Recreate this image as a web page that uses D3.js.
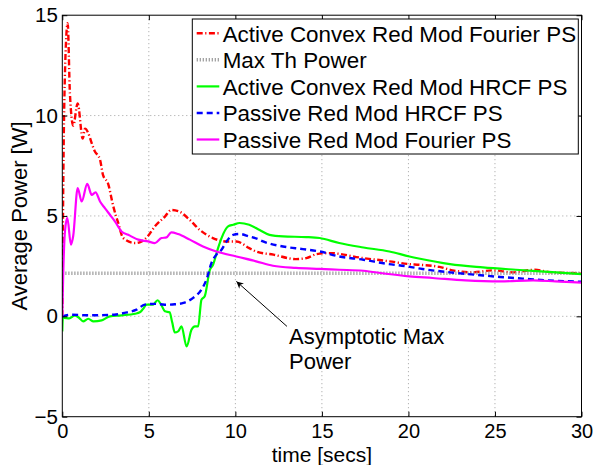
<!DOCTYPE html>
<html>
<head>
<meta charset="utf-8">
<script src="https://cdn.jsdelivr.net/npm/d3@7"></script>
<style>
  html, body { margin: 0; padding: 0; background: #fff; }
  svg { display: block; }
  text { font-family: "Liberation Sans", Arial, Helvetica, sans-serif; fill: #000; }
</style>
</head>
<body>
<svg id="chart" width="595" height="465"></svg>
<script>
// ---------------- DATA ----------------
const xTicks = [0, 5, 10, 15, 20, 25, 30];
const yTicks = [-5, 0, 5, 10, 15];

const seriesNames = [
  "Active Convex Red Mod Fourier PS",
  "Max Th Power",
  "Active Convex Red Mod HRCF PS",
  "Passive Red Mod HRCF PS",
  "Passive Red Mod Fourier PS"
];

const activeFourierT = [0, 0.05, 0.15, 0.31, 0.44, 0.63, 0.89, 1.18, 1.31, 1.89, 2.18, 2.35, 2.65, 2.94, 3.23, 3.52, 4.2, 4.5, 4.9, 5.35, 5.93, 6.3, 6.8, 7.37, 7.95, 8.7, 9.5, 10.06, 10.8, 11.2, 12.2, 13.5, 14.1, 14.7, 15.45, 17.4, 18.9, 20.06, 20.6, 21.8, 22.55, 23.7, 24.9, 26.0, 27.3, 28.3, 30];
const activeFourierV = [0, 6, 12, 14.6, 11.1, 9.5, 10.6, 8.85, 9.35, 8.2, 7.8, 7.05, 6.6, 5.5, 4.65, 3.9, 3.65, 3.7, 3.95, 4.48, 4.97, 5.3, 5.2, 4.8, 4.3, 3.9, 3.73, 3.73, 3.4, 3.23, 3.07, 2.85, 2.9, 3.1, 3.15, 2.9, 2.74, 2.6, 2.57, 2.46, 2.29, 2.19, 2.29, 2.19, 2.32, 2.19, 2.15];

const maxThT = [0, 30];
const maxThV = [2.15, 2.15];

const activeHrcfT = [0, 0.03, 0.1, 0.4, 0.73, 1.0, 1.2, 1.5, 1.8, 2.27, 2.75, 3.42, 4.2, 4.48, 4.65, 4.87, 5.25, 5.5, 5.7, 5.93, 6.2, 6.35, 6.5, 6.69, 6.89, 7.18, 7.47, 7.66, 7.85, 8.04, 8.23, 8.52, 8.71, 9.0, 9.2, 9.58, 9.87, 10.25, 10.8, 11.4, 11.97, 12.75, 14.1, 14.87, 16.0, 17.4, 18.9, 20.06, 20.6, 22.4, 24.3, 26.2, 28.1, 30];
const activeHrcfV = [-0.75, -0.1, -0.08, -0.1, 0.05, -0.1, -0.25, -0.12, -0.25, -0.2, 0, 0.05, 0.13, 0.2, 0.35, 0.58, 0.58, 0.8, 0.6, 0.25, 0.2, -0.3, -0.8, -0.75, -0.5, -1.5, -0.66, -0.5, -0.5, 0.83, 1.0, 2.3, 2.57, 3.4, 3.9, 4.48, 4.56, 4.65, 4.56, 4.3, 4.06, 3.98, 3.95, 3.9, 3.65, 3.43, 3.23, 2.98, 2.88, 2.6, 2.44, 2.32, 2.21, 2.1];

const passiveHrcfT = [0, 0.54, 1.5, 3.0, 3.6, 4.29, 4.77, 5.35, 5.93, 6.5, 7.0, 7.56, 8.04, 8.33, 8.62, 8.9, 9.2, 9.49, 9.87, 10.25, 10.8, 11.3, 11.6, 12.75, 13.9, 14.87, 16.0, 17.4, 18.7, 19.9, 20.8, 22.4, 23.9, 25.3, 26.6, 28.1, 30];
const passiveHrcfV = [0, 0.08, 0.05, 0.08, 0.17, 0.33, 0.58, 0.62, 0.58, 0.6, 0.67, 0.92, 1.33, 1.83, 2.66, 3.07, 3.32, 3.73, 4.06, 4.1, 3.98, 3.85, 3.73, 3.48, 3.35, 3.23, 2.98, 2.82, 2.62, 2.49, 2.36, 2.19, 2.07, 1.96, 1.88, 1.79, 1.72];

const passiveFourierT = [0, 0.05, 0.16, 0.29, 0.5, 0.63, 0.89, 1.12, 1.44, 1.7, 1.92, 2.18, 2.46, 2.75, 3.04, 3.42, 3.81, 4.39, 4.96, 5.35, 5.73, 6.02, 6.3, 6.69, 7.37, 8.13, 8.9, 10.06, 11.2, 12.17, 13.5, 14.87, 16.0, 17.4, 18.7, 20.06, 21.4, 23.3, 25.3, 27.2, 28.5, 30];
const passiveFourierV = [0, 2.0, 4.3, 4.9, 3.57, 4.0, 6.39, 5.72, 6.6, 6.05, 6.17, 5.72, 5.39, 5.06, 4.73, 4.23, 4.06, 3.82, 3.73, 3.65, 3.9, 3.93, 4.18, 4.1, 3.82, 3.48, 3.23, 2.98, 2.74, 2.52, 2.41, 2.36, 2.32, 2.27, 2.12, 1.99, 1.91, 1.79, 1.74, 1.79, 1.74, 1.68];

const annotationLines = ["Asymptotic Max", "Power"];
const arrowTip = [10.06, 1.74];
const arrowTail = [12.98, -0.5];
const annotationAt = [13.1, -1.36];

// ---------------- STYLES ----------------
const styles = [
  { color: "#ff0000", width: 2.4, dash: "6,2.5,1.2,2.5" },
  { color: "#9a9a9a", width: 3.5, dash: "1.2,1.8" },
  { color: "#00ff00", width: 2.2, dash: null },
  { color: "#0000ff", width: 2.4, dash: "6,4" },
  { color: "#ff00ff", width: 2.2, dash: null }
];

const series = [
  [activeFourierT, activeFourierV],
  [maxThT, maxThV],
  [activeHrcfT, activeHrcfV],
  [passiveHrcfT, passiveHrcfV],
  [passiveFourierT, passiveFourierV]
].map(([t, v]) => t.map((d, i) => [d, v[i]]));

// ---------------- CHART ----------------
const svg = d3.select("#chart");
const L = 62.3, R = 581.5, T = 15.2, B = 416.7;
const x = d3.scaleLinear().domain([0, 30]).range([L, R]);
const y = d3.scaleLinear().domain([-5, 15]).range([B, T]);

// grid
const grid = svg.append("g").attr("stroke", "#a0a0a0").attr("stroke-width", 1).attr("stroke-dasharray", "1,3");
xTicks.slice(1, -1).forEach(t => grid.append("line").attr("x1", x(t)).attr("x2", x(t)).attr("y1", T).attr("y2", B));
yTicks.slice(1, -1).forEach(t => grid.append("line").attr("y1", y(t)).attr("y2", y(t)).attr("x1", L).attr("x2", R));

// clip
svg.append("clipPath").attr("id", "clip").append("rect")
  .attr("x", L).attr("y", T).attr("width", R - L).attr("height", B - T);

const line = d3.line().x(d => x(d[0])).y(d => y(d[1])).curve(d3.curveMonotoneX);
const plot = svg.append("g").attr("clip-path", "url(#clip)");
series.forEach((s, i) => {
  const st = styles[i];
  plot.append("path").datum(s).attr("d", line)
    .attr("fill", "none").attr("stroke", st.color).attr("stroke-width", st.width)
    .attr("stroke-dasharray", st.dash).attr("stroke-linejoin", "round");
});

// axes
const fmt = d => (d < 0 ? "\u2212" + Math.abs(d) : String(d));
const xAxis = svg.append("g").attr("transform", `translate(0,${B})`)
  .call(d3.axisBottom(x).tickValues(xTicks).tickSize(-5).tickPadding(7.5).tickFormat(fmt));
const yAxis = svg.append("g").attr("transform", `translate(${L},0)`)
  .call(d3.axisLeft(y).tickValues(yTicks).tickSize(-5).tickPadding(4.5).tickFormat(fmt));
svg.append("g").attr("transform", `translate(0,${T})`)
  .call(d3.axisTop(x).tickValues(xTicks).tickSize(-5).tickFormat(""));
svg.append("g").attr("transform", `translate(${R},0)`)
  .call(d3.axisRight(y).tickValues(yTicks).tickSize(-5).tickFormat(""));
svg.selectAll(".domain").remove();
svg.selectAll(".tick line").attr("stroke", "#000");
[xAxis, yAxis].forEach(a => a.selectAll("text")
  .style("font-size", "20.5px").style("font-family", '"Liberation Sans", Arial, sans-serif').attr("fill", "#000"));
xAxis.selectAll("text").style("font-size", "20px");

svg.append("rect").attr("x", L).attr("y", T).attr("width", R - L).attr("height", B - T)
  .attr("fill", "none").attr("stroke", "#000").attr("stroke-width", 1);

// axis labels
svg.append("text").attr("x", (L + R) / 2).attr("y", 462).attr("text-anchor", "middle")
  .style("font-size", "21px").text("time [secs]");
svg.append("text").attr("transform", `translate(27,${(T + B) / 2}) rotate(-90)`).attr("text-anchor", "middle")
  .style("font-size", "22px").text("Average Power [W]");

// annotation
svg.append("defs").append("marker").attr("id", "arrow").attr("viewBox", "0 0 10 10")
  .attr("refX", 10).attr("refY", 5).attr("markerWidth", 9).attr("markerHeight", 7)
  .attr("markerUnits", "userSpaceOnUse").attr("orient", "auto")
  .append("path").attr("d", "M0,0 L10,5 L0,10 L3,5 Z").attr("fill", "#000");
svg.append("line").attr("x1", x(arrowTail[0])).attr("y1", y(arrowTail[1]))
  .attr("x2", x(arrowTip[0])).attr("y2", y(arrowTip[1]))
  .attr("stroke", "#000").attr("stroke-width", 1).attr("marker-end", "url(#arrow)");
const ann = svg.append("text").attr("x", x(annotationAt[0])).attr("y", y(annotationAt[1])).style("font-size", "22px");
annotationLines.forEach((s, i) => ann.append("tspan").attr("x", x(annotationAt[0])).attr("dy", i === 0 ? 0 : 25.3).text(s));

// legend
const lg = svg.append("g");
lg.append("rect").attr("x", 192.3).attr("y", 19).attr("width", 386).attr("height", 135)
  .attr("fill", "#fff").attr("stroke", "#000").attr("stroke-width", 1);
seriesNames.forEach((name, i) => {
  const yy = 33.3 + i * 26.55;
  const st = styles[i];
  lg.append("line").attr("x1", 196.7).attr("x2", 219.3).attr("y1", yy).attr("y2", yy)
    .attr("stroke", st.color).attr("stroke-width", st.width).attr("stroke-dasharray", st.dash);
  lg.append("text").attr("x", 222.7).attr("y", yy + 8.2).style("font-size", "22.4px").text(name);
});
</script>
</body>
</html>
